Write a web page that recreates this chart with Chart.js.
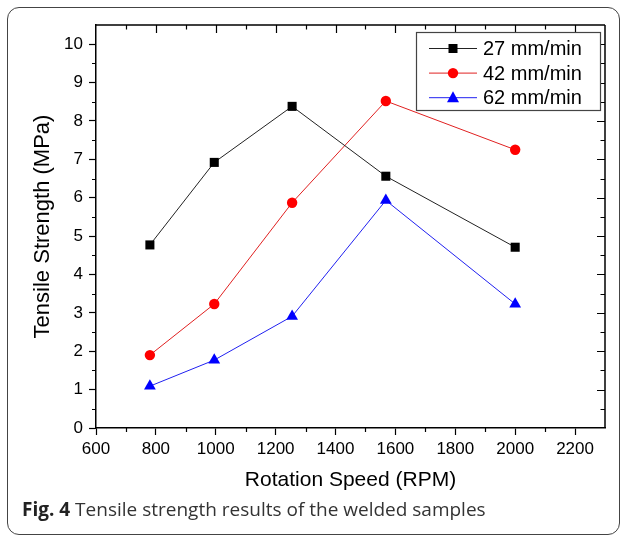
<!DOCTYPE html>
<html>
<head>
<meta charset="utf-8">
<script src="https://cdn.jsdelivr.net/npm/chart.js@4.4.1/dist/chart.umd.min.js"></script>
<style>
  body { margin: 0; background: #fff; }
  #wrap { position: relative; width: 625px; height: 537px; overflow: hidden; }
  #frame {
    position: absolute; left: 7px; top: 7px; width: 611px; height: 526px;
    border: 1.5px solid #444; border-radius: 12px;
  }
  #grafico { position: absolute; left: 0; top: 0; }
  #caption {
    position: absolute; left: 22px; top: 496px;
    font-family: "Open Sans", sans-serif; font-size: 19px; color: #333;
    white-space: nowrap;
  }
  #caption b { color: #222; }
</style>
</head>
<body>
<div id="wrap">
  <div id="frame"></div>
  <canvas id="grafico" width="625" height="500"></canvas>
  <div id="caption"><b>Fig. 4</b> Tensile strength results of the welded samples</div>
</div>
<script>
// Datos
const velocidades = [780, 995, 1255, 1568, 2000];
const serie27 = [4.77, 6.92, 8.38, 6.56, 4.71];
const serie42 = [1.90, 3.23, 5.87, 8.52, 7.25];
const serie62 = [1.09, 1.77, 2.91, 5.93, 3.23];
const etiquetas = ['27 mm/min', '42 mm/min', '62 mm/min'];

const fuente = '"Liberation Sans", Arial, sans-serif';
const puntos = (ys) => velocidades.map((x, i) => ({ x: x, y: ys[i] }));

// dibuja un marcador simple (cuadrado, circulo, triangulo)
function marcador(ctx, estilo, x, y, color) {
  ctx.save();
  ctx.fillStyle = color;
  ctx.beginPath();
  if (estilo === 'rect') {
    ctx.rect(x - 4.5, y - 4.5, 9, 9);
  } else if (estilo === 'circle') {
    ctx.arc(x, y, 5.2, 0, Math.PI * 2);
  } else {
    ctx.moveTo(x, y - 6.5);
    ctx.lineTo(x + 6, y + 4.5);
    ctx.lineTo(x - 6, y + 4.5);
    ctx.closePath();
  }
  ctx.fill();
  ctx.restore();
}

// marco superior/derecho, ticks menores y leyenda
const extras = {
  id: 'extras',
  afterDraw(chart) {
    const ctx = chart.ctx;
    const a = chart.chartArea;
    const sx = chart.scales.x, sy = chart.scales.y;
    ctx.save();
    ctx.strokeStyle = '#000';
    ctx.lineWidth = 1.5;
    ctx.beginPath();
    ctx.moveTo(a.left, a.top); ctx.lineTo(a.right, a.top);
    ctx.moveTo(a.right, a.top); ctx.lineTo(a.right, a.bottom);
    ctx.stroke();

    ctx.lineWidth = 1.2;
    ctx.beginPath();
    for (let v = 700; v < 2300; v += 100) {
      const px = Math.round(sx.getPixelForValue(v)) + 0.5;
      const mayor = v % 200 === 0;
      if (!mayor) { ctx.moveTo(px, a.bottom); ctx.lineTo(px, a.bottom + 4); }
      ctx.moveTo(px, a.top); ctx.lineTo(px, a.top + (mayor ? 8 : 4.5));
    }
    for (let v = 0.5; v < 10.5; v += 0.5) {
      const py = Math.round(sy.getPixelForValue(v)) + 0.5;
      const mayor = v % 1 === 0;
      if (!mayor) { ctx.moveTo(a.left, py); ctx.lineTo(a.left - 4, py); }
      ctx.moveTo(a.right, py); ctx.lineTo(a.right - (mayor ? 8 : 4.5), py);
    }
    ctx.stroke();

    // leyenda
    const lx = 416, ly = 32, lw = 184, lh = 78;
    ctx.fillStyle = '#fff';
    ctx.fillRect(lx, ly, lw, lh);
    ctx.strokeStyle = '#444';
    ctx.lineWidth = 1.2;
    ctx.strokeRect(lx + 0.5, ly + 0.5, lw, lh);
    chart.data.datasets.forEach((ds, i) => {
      const y = 48.5 + i * 24.6;
      ctx.strokeStyle = ds.borderColor;
      ctx.lineWidth = 1;
      ctx.beginPath();
      ctx.moveTo(429, y); ctx.lineTo(477, y);
      ctx.stroke();
      marcador(ctx, ds.pointStyle, 453, y, ds.pointBackgroundColor);
      ctx.fillStyle = '#000';
      ctx.font = '20px ' + fuente;
      ctx.textBaseline = 'middle';
      ctx.textAlign = 'left';
      ctx.fillText(ds.label, 483, y + 1);
    });
    ctx.restore();
  }
};

const ctx = document.getElementById('grafico').getContext('2d');
new Chart(ctx, {
  type: 'line',
  data: {
    datasets: [
      {
        label: etiquetas[0],
        data: puntos(serie27),
        borderColor: '#222',
        borderWidth: 1,
        pointStyle: 'rect',
        pointRadius: 6.4,
        pointBackgroundColor: '#000',
        pointBorderColor: '#000',
        pointBorderWidth: 0,
        tension: 0
      },
      {
        label: etiquetas[1],
        data: puntos(serie42),
        borderColor: '#e02020',
        borderWidth: 1,
        pointStyle: 'circle',
        pointRadius: 5.2,
        pointBackgroundColor: '#ff0000',
        pointBorderColor: '#ff0000',
        pointBorderWidth: 0,
        tension: 0
      },
      {
        label: etiquetas[2],
        data: puntos(serie62),
        borderColor: '#2020f0',
        borderWidth: 1,
        pointStyle: 'triangle',
        pointRadius: 6.8,
        pointBackgroundColor: '#0000ff',
        pointBorderColor: '#0000ff',
        pointBorderWidth: 0,
        tension: 0
      }
    ]
  },
  options: {
    responsive: false,
    animation: false,
    devicePixelRatio: 1,
    layout: { padding: { left: 0, top: 25, right: 20, bottom: 0 } },
    plugins: { legend: { display: false }, tooltip: { enabled: false } },
    scales: {
      x: {
        type: 'linear',
        min: 600,
        max: 2300,
        afterFit: (s) => { s.height = 72; },
        ticks: { stepSize: 200, includeBounds: false, color: '#000', padding: 4,
                 callback: (v) => String(v),
                 font: { family: fuente, size: 17 } },
        grid: { drawOnChartArea: false, tickLength: 7, tickColor: '#000', tickWidth: 1.2 },
        border: { color: '#000', width: 1.5 },
        title: { display: true, text: 'Rotation Speed (RPM)', color: '#000',
                 font: { family: fuente, size: 21 }, padding: { top: 0, bottom: 7 } }
      },
      y: {
        min: 0,
        max: 10.5,
        afterFit: (s) => { s.width = 96; },
        ticks: { stepSize: 1, includeBounds: false, color: '#000', padding: 6,
                 callback: (v) => String(v),
                 font: { family: fuente, size: 17 } },
        grid: { drawOnChartArea: false, tickLength: 7, tickColor: '#000', tickWidth: 1.2 },
        border: { color: '#000', width: 1.5 },
        title: { display: true, text: 'Tensile Strength (MPa)', color: '#000',
                 font: { family: fuente, size: 22 }, padding: { top: 30, bottom: 0 } }
      }
    }
  },
  plugins: [extras]
});
</script>
</body>
</html>
